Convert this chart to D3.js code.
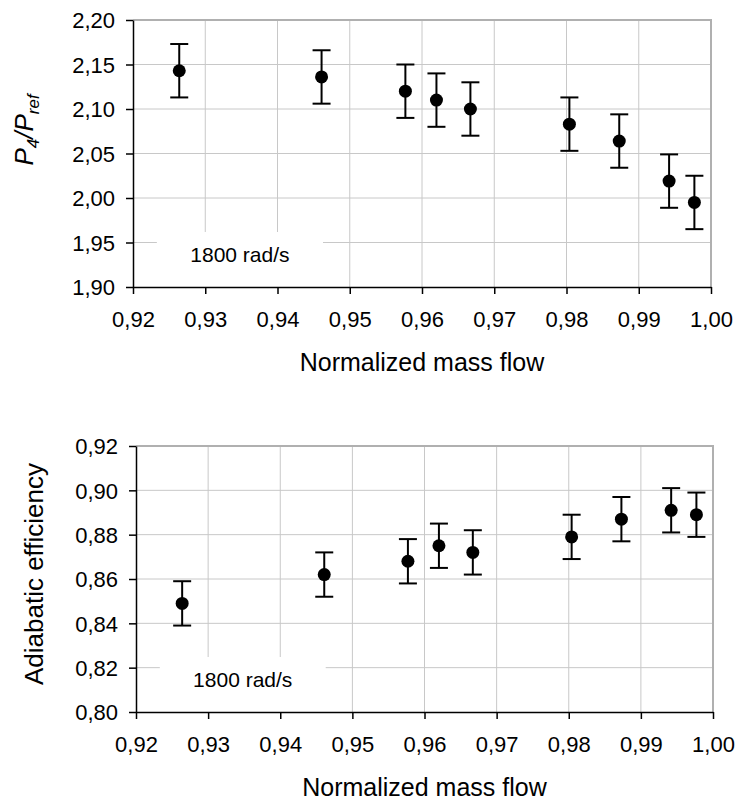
<!DOCTYPE html>
<html>
<head>
<meta charset="utf-8">
<script src="https://cdn.jsdelivr.net/npm/d3@7"></script>
<style>
  body { margin: 0; background: white; }
  text { font-family: "Liberation Sans", Arial, sans-serif; fill: black; }
</style>
</head>
<body>
<script>
let width = 739
let height = 802

// normalized mass flow, shared by both panels
let massFlow = [0.9264, 0.9461, 0.9577, 0.9620, 0.9667, 0.9804, 0.9873, 0.9942, 0.9977]
// pressure ratio P4/Pref and its error
let pressureRatio = [2.143, 2.136, 2.120, 2.110, 2.100, 2.083, 2.064, 2.019, 1.995]
let pressureErr = [0.030, 0.030, 0.030, 0.030, 0.030, 0.030, 0.030, 0.030, 0.030]
// adiabatic efficiency and its error
let efficiency = [0.849, 0.862, 0.868, 0.875, 0.872, 0.879, 0.887, 0.891, 0.889]
let efficiencyErr = [0.010, 0.010, 0.010, 0.010, 0.010, 0.010, 0.010, 0.010, 0.010]

let xTicks = [0.92, 0.93, 0.94, 0.95, 0.96, 0.97, 0.98, 0.99, 1.00]
let pressureTicks = [1.90, 1.95, 2.00, 2.05, 2.10, 2.15, 2.20]
let efficiencyTicks = [0.80, 0.82, 0.84, 0.86, 0.88, 0.90, 0.92]

let speedLabel = "1800 rad/s"
let xTitle = "Normalized mass flow"

let fmt = d => d3.format(".2f")(d).replace(".", ",")

let svg = d3.select("body")
    .append("svg")
    .attr("width", width)
    .attr("height", height)

function drawPanel(opts) {
    let g = svg.append("g")
        .attr("transform", `translate(${opts.left},${opts.top})`)
    let w = opts.width
    let h = opts.height

    let x = d3.scaleLinear()
        .domain([xTicks[0], xTicks[xTicks.length - 1]])
        .range([0, w])
    let y = d3.scaleLinear()
        .domain([opts.yTicks[0], opts.yTicks[opts.yTicks.length - 1]])
        .range([h, 0])

    // grid
    g.selectAll(".vgrid")
        .data(xTicks.slice(1, -1))
        .enter()
        .append("line")
        .attr("x1", d => x(d)).attr("x2", d => x(d))
        .attr("y1", 0).attr("y2", h)
        .attr("stroke", "#c8c8c8")
        .attr("stroke-width", 1)
    g.selectAll(".hgrid")
        .data(opts.yTicks.slice(1, -1))
        .enter()
        .append("line")
        .attr("x1", 0).attr("x2", w)
        .attr("y1", d => y(d)).attr("y2", d => y(d))
        .attr("stroke", "#c8c8c8")
        .attr("stroke-width", 1)

    // top and right frame
    g.append("path")
        .attr("d", `M0,0H${w}V${h}`)
        .attr("fill", "none")
        .attr("stroke", "#b0b0b0")
        .attr("stroke-width", 2)

    // label box hides the grid behind it
    let bx0 = x(0.9233)
    let bx1 = x(0.9463)
    let by0 = h - 55
    g.append("rect")
        .attr("x", bx0)
        .attr("y", by0)
        .attr("width", bx1 - bx0)
        .attr("height", h - by0)
        .attr("fill", "white")
    g.append("text")
        .attr("x", (bx0 + bx1) / 2)
        .attr("y", h - 25)
        .attr("text-anchor", "middle")
        .style("font-size", "21px")
        .text(speedLabel)

    // axes
    let xAxis = d3.axisBottom(x)
        .tickValues(xTicks)
        .tickFormat(fmt)
        .tickSizeInner(7)
        .tickSizeOuter(0)
        .tickPadding(17)
    let gx = g.append("g")
        .attr("transform", `translate(0,${h})`)
        .call(xAxis)
    let yAxis = d3.axisLeft(y)
        .tickValues(opts.yTicks)
        .tickFormat(fmt)
        .tickSizeInner(7)
        .tickSizeOuter(0)
        .tickPadding(11)
    let gy = g.append("g").call(yAxis)
    for (let a of [gx, gy]) {
        a.select(".domain").attr("stroke", "black").attr("stroke-width", 1.5)
        a.selectAll(".tick line").attr("stroke", "black").attr("stroke-width", 1.5)
        a.selectAll(".tick text")
            .style("font-size", "22px")
            .style("font-family", "'Liberation Sans', Arial, sans-serif")
            .attr("fill", "black")
    }
    gx.selectAll(".tick text").attr("dy", "0.71em")
    gy.selectAll(".tick text").attr("dy", "0.36em")

    // error bars and points
    let pts = massFlow.map((m, i) => ({ x: m, y: opts.values[i], e: opts.errors[i] }))
    let cap = 9
    let bars = g.selectAll(".err")
        .data(pts)
        .enter()
        .append("g")
        .attr("stroke", "black")
        .attr("stroke-width", 2)
    bars.append("line")
        .attr("x1", d => x(d.x)).attr("x2", d => x(d.x))
        .attr("y1", d => y(d.y + d.e)).attr("y2", d => y(d.y - d.e))
    bars.append("line")
        .attr("x1", d => x(d.x) - cap).attr("x2", d => x(d.x) + cap)
        .attr("y1", d => y(d.y + d.e)).attr("y2", d => y(d.y + d.e))
    bars.append("line")
        .attr("x1", d => x(d.x) - cap).attr("x2", d => x(d.x) + cap)
        .attr("y1", d => y(d.y - d.e)).attr("y2", d => y(d.y - d.e))
    g.selectAll(".pt")
        .data(pts)
        .enter()
        .append("circle")
        .attr("cx", d => x(d.x))
        .attr("cy", d => y(d.y))
        .attr("r", 6.5)
        .attr("fill", "black")

    // x title
    g.append("text")
        .attr("x", w / 2)
        .attr("y", h + opts.xTitleOffset)
        .attr("text-anchor", "middle")
        .style("font-size", "25px")
        .text(xTitle)

    return g
}

let pressurePanel = drawPanel({
    left: 133, top: 20, width: 578, height: 267,
    yTicks: pressureTicks, values: pressureRatio, errors: pressureErr,
    xTitleOffset: 84
})
let efficiencyPanel = drawPanel({
    left: 136, top: 446, width: 577, height: 266,
    yTicks: efficiencyTicks, values: efficiency, errors: efficiencyErr,
    xTitleOffset: 84
})

// y titles
let pTitle = svg.append("text")
    .attr("transform", "translate(33,130) rotate(-90)")
    .attr("text-anchor", "middle")
    .style("font-size", "26px")
    .style("font-style", "italic")
pTitle.append("tspan").text("P")
pTitle.append("tspan").attr("dy", 6).style("font-size", "17px").text("4")
pTitle.append("tspan").attr("dy", -6).text("/P")
pTitle.append("tspan").attr("dy", 6).style("font-size", "17px").text("ref")

svg.append("text")
    .attr("transform", "translate(43,574) rotate(-90)")
    .attr("text-anchor", "middle")
    .style("font-size", "26px")
    .text("Adiabatic efficiency")
</script>
</body>
</html>
